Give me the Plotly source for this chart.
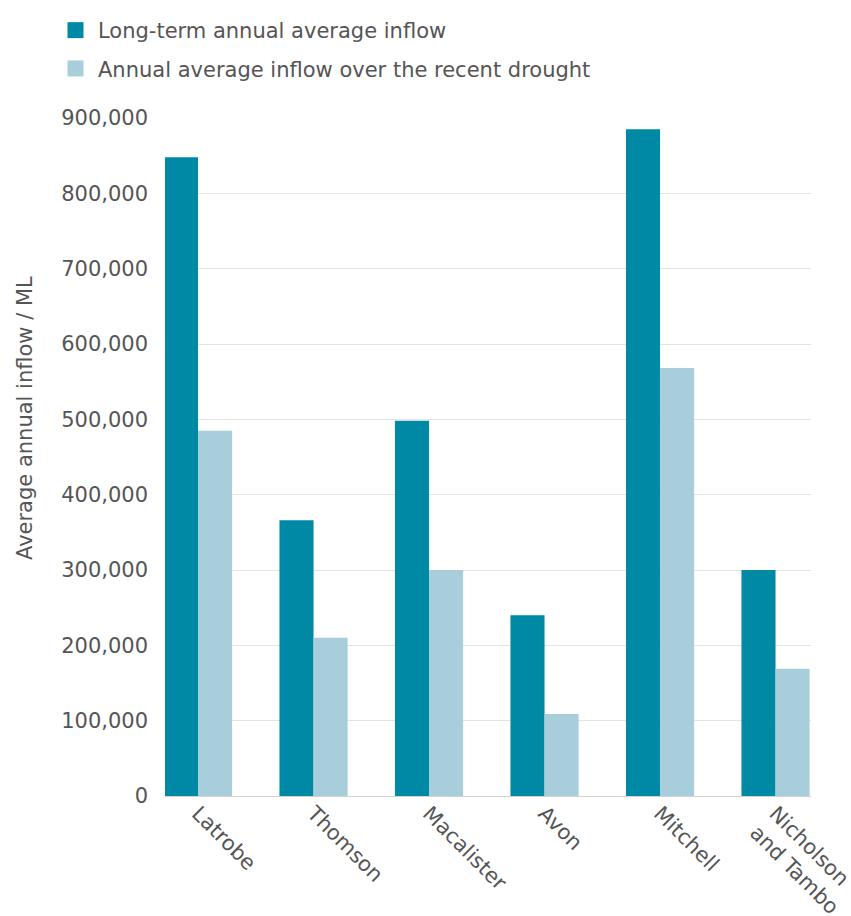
import plotly.graph_objects as go

categories = ["Latrobe", "Thomson", "Macalister", "Avon", "Mitchell", "Nicholson<br>and Tambo"]
long_term = [848000, 366000, 498000, 240000, 885000, 300000]
drought = [485000, 210000, 300000, 109000, 568000, 169000]
y_ticks = [0, 100000, 200000, 300000, 400000, 500000, 600000, 700000, 800000, 900000]
y_tick_labels = ["0", "100,000", "200,000", "300,000", "400,000", "500,000",
                 "600,000", "700,000", "800,000", "900,000"]
series_names = ["Long-term annual average inflow", "Annual average inflow over the recent drought"]

DARK = "#0089a5"
LIGHT = "#a8cedc"
TEXT = "#555555"
FONT = "DejaVu Sans, Liberation Sans, sans-serif"

ML, MR, MT, MB = 165, 40, 118, 120
W, H = 851, 916
PW, PH = W - ML - MR, H - MT - MB

fig = go.Figure()
fig.add_trace(go.Bar(x=categories, y=long_term, name=series_names[0],
                     marker=dict(color=DARK, line=dict(width=0)), showlegend=False))
fig.add_trace(go.Bar(x=categories, y=drought, name=series_names[1],
                     marker=dict(color=LIGHT, line=dict(width=0)), showlegend=False))

# legend entries with larger square symbols
for i, (name, col) in enumerate(zip(series_names, [DARK, LIGHT])):
    fig.add_trace(go.Scatter(x=[None], y=[None], mode="markers", name=name,
                             legendgroup="g%d" % i,
                             marker=dict(symbol="square", size=20, color=col)))

fig.update_layout(
    width=W, height=H,
    paper_bgcolor="white", plot_bgcolor="white",
    margin=dict(l=ML, r=MR, t=MT, b=MB, autoexpand=False),
    barmode="group", bargap=0.41, bargroupgap=0,
    font=dict(family=FONT, size=21, color=TEXT),
    showlegend=True,
    legend=dict(x=(53 - ML) / PW, y=1 + (MT - 10) / PH, xanchor="left", yanchor="top",
                font=dict(family=FONT, size=21, color=TEXT),
                itemsizing="trace", itemwidth=35, traceorder="grouped", tracegroupgap=8,
                bgcolor="rgba(0,0,0,0)"),
    xaxis=dict(range=[-0.286, 5.307], tickangle=45, showgrid=False, showline=False,
               zeroline=False, ticks="", automargin=False,
               tickfont=dict(size=21, color=TEXT)),
    yaxis=dict(range=[0, 900000], tickvals=y_ticks, ticktext=y_tick_labels,
               showgrid=True, gridcolor="#e3e3e3", gridwidth=1,
               zeroline=True, zerolinecolor="#d2d2d2", zerolinewidth=1,
               showline=False, ticks="", ticklabelstandoff=16, automargin=False,
               tickfont=dict(size=21, color=TEXT)),
    annotations=[dict(text="Average annual inflow / ML",
                      x=(25 - ML) / PW, y=(796 - 418) / PH,
                      xref="paper", yref="paper", xanchor="center", yanchor="middle",
                      showarrow=False, textangle=-90,
                      font=dict(size=21, color=TEXT))],
)

fig.write_html("out.html", config={"displayModeBar": False},
               post_script="document.body.style.margin='0';document.body.style.overflow='hidden';")
